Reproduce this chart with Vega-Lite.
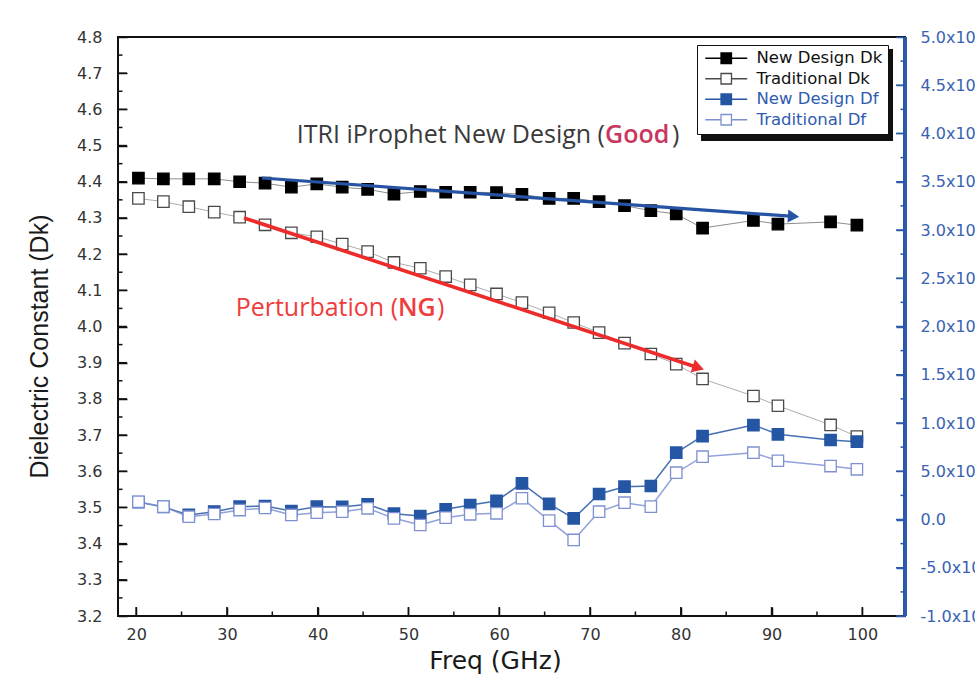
{
"$schema":"https://vega.github.io/schema/vega-lite/v6.json",
"width":787,"height":579,"autosize":"none",
"padding":{"left":118,"top":37,"right":70,"bottom":65},
"background":"white",
"config":{"view":{"stroke":"#111","strokeWidth":2,"fill":"transparent"},"axis":{"grid":false,"domain":false,"zindex":1,"tickWidth":1.5,"labelOverlap":false,"labelSeparation":-100,"labelBound":false,"labelFlush":false}},
"datasets":{
"dk":[
{"freq":20.25,"series":"New Design Dk","value":4.410},{"freq":23.0,"series":"New Design Dk","value":4.408},{"freq":25.8,"series":"New Design Dk","value":4.408},{"freq":28.6,"series":"New Design Dk","value":4.408},{"freq":31.4,"series":"New Design Dk","value":4.400},{"freq":34.2,"series":"New Design Dk","value":4.396},{"freq":37.1,"series":"New Design Dk","value":4.385},{"freq":39.9,"series":"New Design Dk","value":4.394},{"freq":42.7,"series":"New Design Dk","value":4.385},{"freq":45.5,"series":"New Design Dk","value":4.379},{"freq":48.4,"series":"New Design Dk","value":4.366},{"freq":51.3,"series":"New Design Dk","value":4.373},{"freq":54.1,"series":"New Design Dk","value":4.371},{"freq":56.8,"series":"New Design Dk","value":4.371},{"freq":59.7,"series":"New Design Dk","value":4.370},{"freq":62.5,"series":"New Design Dk","value":4.365},{"freq":65.5,"series":"New Design Dk","value":4.354},{"freq":68.2,"series":"New Design Dk","value":4.354},{"freq":71.0,"series":"New Design Dk","value":4.345},{"freq":73.8,"series":"New Design Dk","value":4.334},{"freq":76.7,"series":"New Design Dk","value":4.320},{"freq":79.5,"series":"New Design Dk","value":4.311},{"freq":82.4,"series":"New Design Dk","value":4.272},{"freq":88.0,"series":"New Design Dk","value":4.293},{"freq":90.7,"series":"New Design Dk","value":4.283},{"freq":96.5,"series":"New Design Dk","value":4.289},{"freq":99.4,"series":"New Design Dk","value":4.280},
{"freq":20.25,"series":"Traditional Dk","value":4.354},{"freq":23.0,"series":"Traditional Dk","value":4.345},{"freq":25.8,"series":"Traditional Dk","value":4.331},{"freq":28.6,"series":"Traditional Dk","value":4.316},{"freq":31.4,"series":"Traditional Dk","value":4.302},{"freq":34.2,"series":"Traditional Dk","value":4.281},{"freq":37.1,"series":"Traditional Dk","value":4.259},{"freq":39.9,"series":"Traditional Dk","value":4.248},{"freq":42.7,"series":"Traditional Dk","value":4.228},{"freq":45.5,"series":"Traditional Dk","value":4.207},{"freq":48.4,"series":"Traditional Dk","value":4.177},{"freq":51.3,"series":"Traditional Dk","value":4.161},{"freq":54.1,"series":"Traditional Dk","value":4.138},{"freq":56.8,"series":"Traditional Dk","value":4.115},{"freq":59.7,"series":"Traditional Dk","value":4.090},{"freq":62.5,"series":"Traditional Dk","value":4.066},{"freq":65.5,"series":"Traditional Dk","value":4.038},{"freq":68.2,"series":"Traditional Dk","value":4.011},{"freq":71.0,"series":"Traditional Dk","value":3.983},{"freq":73.8,"series":"Traditional Dk","value":3.954},{"freq":76.7,"series":"Traditional Dk","value":3.924},{"freq":79.5,"series":"Traditional Dk","value":3.896},{"freq":82.4,"series":"Traditional Dk","value":3.855},{"freq":88.0,"series":"Traditional Dk","value":3.808},{"freq":90.7,"series":"Traditional Dk","value":3.781},{"freq":96.5,"series":"Traditional Dk","value":3.728},{"freq":99.4,"series":"Traditional Dk","value":3.696}
],
"df":[
{"freq":20.25,"series":"New Design Df","value":0.00018},{"freq":23.0,"series":"New Design Df","value":0.00013},{"freq":25.8,"series":"New Design Df","value":0.000047},{"freq":28.6,"series":"New Design Df","value":0.000081},{"freq":31.4,"series":"New Design Df","value":0.000133},{"freq":34.2,"series":"New Design Df","value":0.00014},{"freq":37.1,"series":"New Design Df","value":0.000088},{"freq":39.9,"series":"New Design Df","value":0.000133},{"freq":42.7,"series":"New Design Df","value":0.00013},{"freq":45.5,"series":"New Design Df","value":0.000158},{"freq":48.4,"series":"New Design Df","value":0.00006},{"freq":51.3,"series":"New Design Df","value":0.000036},{"freq":54.1,"series":"New Design Df","value":0.000106},{"freq":56.8,"series":"New Design Df","value":0.00015},{"freq":59.7,"series":"New Design Df","value":0.000192},{"freq":62.5,"series":"New Design Df","value":0.000375},{"freq":65.5,"series":"New Design Df","value":0.000161},{"freq":68.2,"series":"New Design Df","value":0.000012},{"freq":71.0,"series":"New Design Df","value":0.000264},{"freq":73.8,"series":"New Design Df","value":0.00034},{"freq":76.7,"series":"New Design Df","value":0.000347},{"freq":79.5,"series":"New Design Df","value":0.000692},{"freq":82.4,"series":"New Design Df","value":0.000865},{"freq":88.0,"series":"New Design Df","value":0.000979},{"freq":90.7,"series":"New Design Df","value":0.000883},{"freq":96.5,"series":"New Design Df","value":0.000824},{"freq":99.4,"series":"New Design Df","value":0.000806},
{"freq":20.25,"series":"Traditional Df","value":0.000184},{"freq":23.0,"series":"Traditional Df","value":0.000133},{"freq":25.8,"series":"Traditional Df","value":0.000029},{"freq":28.6,"series":"Traditional Df","value":0.000057},{"freq":31.4,"series":"Traditional Df","value":0.000098},{"freq":34.2,"series":"Traditional Df","value":0.000119},{"freq":37.1,"series":"Traditional Df","value":0.000047},{"freq":39.9,"series":"Traditional Df","value":0.00007},{"freq":42.7,"series":"Traditional Df","value":0.000081},{"freq":45.5,"series":"Traditional Df","value":0.000116},{"freq":48.4,"series":"Traditional Df","value":0.000012},{"freq":51.3,"series":"Traditional Df","value":-0.000057},{"freq":54.1,"series":"Traditional Df","value":0.000019},{"freq":56.8,"series":"Traditional Df","value":0.000054},{"freq":59.7,"series":"Traditional Df","value":0.000064},{"freq":62.5,"series":"Traditional Df","value":0.00022},{"freq":65.5,"series":"Traditional Df","value":-0.000012},{"freq":68.2,"series":"Traditional Df","value":-0.000212},{"freq":71.0,"series":"Traditional Df","value":0.000081},{"freq":73.8,"series":"Traditional Df","value":0.000174},{"freq":76.7,"series":"Traditional Df","value":0.000133},{"freq":79.5,"series":"Traditional Df","value":0.000485},{"freq":82.4,"series":"Traditional Df","value":0.000651},{"freq":88.0,"series":"Traditional Df","value":0.000692},{"freq":90.7,"series":"Traditional Df","value":0.000609},{"freq":96.5,"series":"Traditional Df","value":0.000554},{"freq":99.4,"series":"Traditional Df","value":0.00052}
],
"notes":[
{"part":"itri","freq":71.65,"value":4.529,"text":"ITRI iProphet New Design ("},
{"part":"good","freq":71.65,"value":4.529,"text":"Good"},
{"part":"itri_end","freq":79.03,"value":4.529,"text":")"},
{"part":"pert","freq":48.85,"value":4.051,"text":"Perturbation ("},
{"part":"ng","freq":48.85,"value":4.051,"text":"NG"},
{"part":"pert_end","freq":53.14,"value":4.051,"text":")"}
],
"arrows":[
{"arrow":"good","freq":33.86,"value":4.4104,"freq2":92.42,"value2":4.3041},
{"arrow":"ng","freq":31.88,"value":4.300,"freq2":81.93,"value2":3.8862}
],
"shadow":[{"freq":82.23,"value":4.767,"freq2":103.38,"value2":4.5126}],
"xticks":[{"v":20,"kind":"major"},{"v":25,"kind":"minor"},{"v":30,"kind":"major"},{"v":35,"kind":"minor"},{"v":40,"kind":"major"},{"v":45,"kind":"minor"},{"v":50,"kind":"major"},{"v":55,"kind":"minor"},{"v":60,"kind":"major"},{"v":65,"kind":"minor"},{"v":70,"kind":"major"},{"v":75,"kind":"minor"},{"v":80,"kind":"major"},{"v":85,"kind":"minor"},{"v":90,"kind":"major"},{"v":95,"kind":"minor"},{"v":100,"kind":"major"}],
"dkticks":[{"v":3.2,"kind":"major"},{"v":3.25,"kind":"minor"},{"v":3.3,"kind":"major"},{"v":3.35,"kind":"minor"},{"v":3.4,"kind":"major"},{"v":3.45,"kind":"minor"},{"v":3.5,"kind":"major"},{"v":3.55,"kind":"minor"},{"v":3.6,"kind":"major"},{"v":3.65,"kind":"minor"},{"v":3.7,"kind":"major"},{"v":3.75,"kind":"minor"},{"v":3.8,"kind":"major"},{"v":3.85,"kind":"minor"},{"v":3.9,"kind":"major"},{"v":3.95,"kind":"minor"},{"v":4.0,"kind":"major"},{"v":4.05,"kind":"minor"},{"v":4.1,"kind":"major"},{"v":4.15,"kind":"minor"},{"v":4.2,"kind":"major"},{"v":4.25,"kind":"minor"},{"v":4.3,"kind":"major"},{"v":4.35,"kind":"minor"},{"v":4.4,"kind":"major"},{"v":4.45,"kind":"minor"},{"v":4.5,"kind":"major"},{"v":4.55,"kind":"minor"},{"v":4.6,"kind":"major"},{"v":4.65,"kind":"minor"},{"v":4.7,"kind":"major"},{"v":4.75,"kind":"minor"},{"v":4.8,"kind":"major"}],
"dfticks":[{"v":-0.001,"kind":"major"},{"v":-0.00075,"kind":"minor"},{"v":-0.0005,"kind":"major"},{"v":-0.00025,"kind":"minor"},{"v":0,"kind":"major"},{"v":0.00025,"kind":"minor"},{"v":0.0005,"kind":"major"},{"v":0.00075,"kind":"minor"},{"v":0.001,"kind":"major"},{"v":0.00125,"kind":"minor"},{"v":0.0015,"kind":"major"},{"v":0.00175,"kind":"minor"},{"v":0.002,"kind":"major"},{"v":0.00225,"kind":"minor"},{"v":0.0025,"kind":"major"},{"v":0.00275,"kind":"minor"},{"v":0.003,"kind":"major"},{"v":0.00325,"kind":"minor"},{"v":0.0035,"kind":"major"},{"v":0.00375,"kind":"minor"},{"v":0.004,"kind":"major"},{"v":0.00425,"kind":"minor"},{"v":0.0045,"kind":"major"},{"v":0.00475,"kind":"minor"},{"v":0.005,"kind":"major"}]
},
"layer":[
{"layer":[
{"data":{"name":"dk"},"mark":{"type":"line","strokeWidth":1,"strokeOpacity":0.45},
"encoding":{
"x":{"field":"freq","type":"quantitative","title":"Freq (GHz)","scale":{"domain":[18,104.7],"nice":false,"zero":false},
"axis":{"offset":-9,"tickCount":9,"labelFont":"DejaVu Sans","labelFontSize":16,"labelColor":"#333","labelPadding":10,"tickColor":"#111","tickSize":9,"titleFont":"DejaVu Sans","titleFontSize":25,"titleFontWeight":"normal","titleColor":"#1a1a1a","titlePadding":6,"titleX":377}},
"y":{"field":"value","type":"quantitative","title":"Dielectric Constant (Dk)","scale":{"domain":[3.2,4.8],"nice":false,"zero":false},
"axis":{"offset":-9,"tickCount":16,"format":".1f","labelFont":"DejaVu Sans","labelFontSize":16,"labelColor":"#333","labelPadding":16,"tickColor":"#111","tickSize":9,"titleFont":"Liberation Sans","titleFontSize":25,"titleFontWeight":"normal","titleColor":"#1a1a1a","titlePadding":24,"titleY":309}},
"stroke":{"field":"series","type":"nominal","scale":{"domain":["New Design Dk","Traditional Dk","New Design Df","Traditional Df"],"range":["#000000","#4a4a4a","#2456a4","#7e90d2"]},
"legend":{"orient":"none","legendX":579,"legendY":8,"title":null,"symbolType":"M-4,0H-1M1,0H4M-1,-1H1V1H-1Z","symbolSize":110,"symbolStrokeWidth":1.3,"labelFont":"DejaVu Sans","labelFontSize":16.5,"labelOffset":22,"symbolOffset":16,"padding":5,"rowPadding":3.5,"strokeColor":"#111","fillColor":"white","labelLimit":300,"encode":{"labels":{"update":{"fill":{"signal":"indexof(datum.label,'Df') >= 0 ? '#2f5bb0' : '#111'"}}},"symbols":{"update":{"strokeOpacity":{"value":1},"opacity":{"value":1}}}}}}
}},
{"data":{"name":"dk"},"mark":{"type":"point","shape":"square","size":130,"filled":true,"strokeWidth":1.3,"opacity":1},
"encoding":{
"x":{"field":"freq","type":"quantitative","title":"Freq (GHz)","scale":{"domain":[18,104.7],"nice":false,"zero":false}},
"y":{"field":"value","type":"quantitative","title":"Dielectric Constant (Dk)","scale":{"domain":[3.2,4.8],"nice":false,"zero":false}},
"fill":{"field":"series","type":"nominal","scale":{"domain":["New Design Dk","Traditional Dk","New Design Df","Traditional Df"],"range":["#000000","#ffffff","#2456a4","#ffffff"]},
"legend":{"orient":"none","legendX":579,"legendY":8,"title":null,"symbolType":"M-4,0H-1M1,0H4M-1,-1H1V1H-1Z","symbolSize":110,"symbolStrokeWidth":1.3,"labelFont":"DejaVu Sans","labelFontSize":16.5,"labelOffset":22,"symbolOffset":16,"padding":5,"rowPadding":3.5,"strokeColor":"#111","fillColor":"white","labelLimit":300,"encode":{"labels":{"update":{"fill":{"signal":"indexof(datum.label,'Df') >= 0 ? '#2f5bb0' : '#111'"}}},"symbols":{"update":{"strokeOpacity":{"value":1},"opacity":{"value":1}}}}}},
"stroke":{"field":"series","type":"nominal"}
}},
{"data":{"name":"xticks"},"transform":[{"filter":"datum.kind == 'major'"}],"mark":{"type":"tick","orient":"vertical","size":18,"thickness":1.5,"color":"#111","opacity":1,"clip":true},
"encoding":{"x":{"field":"v","type":"quantitative","title":"Freq (GHz)","scale":{"domain":[18,104.7],"nice":false,"zero":false}},"y":{"datum":3.2,"type":"quantitative","title":"Dielectric Constant (Dk)","scale":{"domain":[3.2,4.8],"nice":false,"zero":false}}}},
{"data":{"name":"xticks"},"transform":[{"filter":"datum.kind == 'minor'"}],"mark":{"type":"tick","orient":"vertical","size":9,"thickness":1.5,"color":"#111","opacity":1,"clip":true},
"encoding":{"x":{"field":"v","type":"quantitative","title":"Freq (GHz)","scale":{"domain":[18,104.7],"nice":false,"zero":false}},"y":{"datum":3.2,"type":"quantitative","title":"Dielectric Constant (Dk)","scale":{"domain":[3.2,4.8],"nice":false,"zero":false}}}},
{"data":{"name":"dkticks"},"transform":[{"filter":"datum.kind == 'major'"}],"mark":{"type":"tick","orient":"horizontal","size":18,"thickness":1.5,"color":"#111","opacity":1,"clip":true},
"encoding":{"y":{"field":"v","type":"quantitative","title":"Dielectric Constant (Dk)","scale":{"domain":[3.2,4.8],"nice":false,"zero":false}},"x":{"datum":18,"type":"quantitative","title":"Freq (GHz)","scale":{"domain":[18,104.7],"nice":false,"zero":false}}}},
{"data":{"name":"dkticks"},"transform":[{"filter":"datum.kind == 'minor'"}],"mark":{"type":"tick","orient":"horizontal","size":9,"thickness":1.5,"color":"#111","opacity":1,"clip":true},
"encoding":{"y":{"field":"v","type":"quantitative","title":"Dielectric Constant (Dk)","scale":{"domain":[3.2,4.8],"nice":false,"zero":false}},"x":{"datum":18,"type":"quantitative","title":"Freq (GHz)","scale":{"domain":[18,104.7],"nice":false,"zero":false}}}},
{"data":{"name":"arrows"},"transform":[{"filter":"datum.arrow == 'good'"}],"mark":{"type":"rule","color":"#2753a5","strokeWidth":3.2},
"encoding":{"x":{"field":"freq","type":"quantitative","title":"Freq (GHz)","scale":{"domain":[18,104.7],"nice":false,"zero":false}},"y":{"field":"value","type":"quantitative","title":"Dielectric Constant (Dk)","scale":{"domain":[3.2,4.8],"nice":false,"zero":false}},"x2":{"field":"freq2"},"y2":{"field":"value2"}}},
{"data":{"name":"arrows"},"transform":[{"filter":"datum.arrow == 'ng'"}],"mark":{"type":"rule","color":"#ee2b2b","strokeWidth":3.6},
"encoding":{"x":{"field":"freq","type":"quantitative","title":"Freq (GHz)","scale":{"domain":[18,104.7],"nice":false,"zero":false}},"y":{"field":"value","type":"quantitative","title":"Dielectric Constant (Dk)","scale":{"domain":[3.2,4.8],"nice":false,"zero":false}},"x2":{"field":"freq2"},"y2":{"field":"value2"}}},
{"data":{"name":"arrows"},"transform":[{"filter":"datum.arrow == 'good'"}],"mark":{"type":"point","shape":"triangle-right","size":170,"filled":true,"color":"#2753a5","angle":4,"opacity":1},
"encoding":{"x":{"field":"freq2","type":"quantitative","title":"Freq (GHz)","scale":{"domain":[18,104.7],"nice":false,"zero":false}},"y":{"field":"value2","type":"quantitative","title":"Dielectric Constant (Dk)","scale":{"domain":[3.2,4.8],"nice":false,"zero":false}}}},
{"data":{"name":"arrows"},"transform":[{"filter":"datum.arrow == 'ng'"}],"mark":{"type":"point","shape":"triangle-right","size":180,"filled":true,"color":"#ee2b2b","angle":18,"opacity":1},
"encoding":{"x":{"field":"freq2","type":"quantitative","title":"Freq (GHz)","scale":{"domain":[18,104.7],"nice":false,"zero":false}},"y":{"field":"value2","type":"quantitative","title":"Dielectric Constant (Dk)","scale":{"domain":[3.2,4.8],"nice":false,"zero":false}}}},
{"data":{"name":"notes"},"transform":[{"filter":"datum.part == 'itri'"}],"mark":{"type":"text","align":"right","baseline":"middle","font":"Open Sans","fontSize":25,"color":"#3a3a3a"},
"encoding":{"x":{"field":"freq","type":"quantitative","title":"Freq (GHz)","scale":{"domain":[18,104.7],"nice":false,"zero":false}},"y":{"field":"value","type":"quantitative","title":"Dielectric Constant (Dk)","scale":{"domain":[3.2,4.8],"nice":false,"zero":false}},"text":{"field":"text"}}},
{"data":{"name":"notes"},"transform":[{"filter":"datum.part == 'itri_end'"}],"mark":{"type":"text","align":"left","baseline":"middle","font":"Open Sans","fontSize":25,"color":"#3a3a3a"},
"encoding":{"x":{"field":"freq","type":"quantitative","title":"Freq (GHz)","scale":{"domain":[18,104.7],"nice":false,"zero":false}},"y":{"field":"value","type":"quantitative","title":"Dielectric Constant (Dk)","scale":{"domain":[3.2,4.8],"nice":false,"zero":false}},"text":{"field":"text"}}},
{"data":{"name":"notes"},"transform":[{"filter":"datum.part == 'good'"}],"mark":{"type":"text","align":"left","baseline":"middle","font":"Open Sans","fontSize":25,"fontWeight":600,"color":"#c8375f"},
"encoding":{"x":{"field":"freq","type":"quantitative","title":"Freq (GHz)","scale":{"domain":[18,104.7],"nice":false,"zero":false}},"y":{"field":"value","type":"quantitative","title":"Dielectric Constant (Dk)","scale":{"domain":[3.2,4.8],"nice":false,"zero":false}},"text":{"field":"text"}}},
{"data":{"name":"notes"},"transform":[{"filter":"datum.part == 'pert'"}],"mark":{"type":"text","align":"right","baseline":"middle","font":"Open Sans","fontSize":25,"color":"#f03c3c"},
"encoding":{"x":{"field":"freq","type":"quantitative","title":"Freq (GHz)","scale":{"domain":[18,104.7],"nice":false,"zero":false}},"y":{"field":"value","type":"quantitative","title":"Dielectric Constant (Dk)","scale":{"domain":[3.2,4.8],"nice":false,"zero":false}},"text":{"field":"text"}}},
{"data":{"name":"notes"},"transform":[{"filter":"datum.part == 'ng'"}],"mark":{"type":"text","align":"left","baseline":"middle","font":"Open Sans","fontSize":25,"fontWeight":600,"color":"#f03c3c"},
"encoding":{"x":{"field":"freq","type":"quantitative","title":"Freq (GHz)","scale":{"domain":[18,104.7],"nice":false,"zero":false}},"y":{"field":"value","type":"quantitative","title":"Dielectric Constant (Dk)","scale":{"domain":[3.2,4.8],"nice":false,"zero":false}},"text":{"field":"text"}}},
{"data":{"name":"notes"},"transform":[{"filter":"datum.part == 'pert_end'"}],"mark":{"type":"text","align":"left","baseline":"middle","font":"Open Sans","fontSize":25,"color":"#f03c3c"},
"encoding":{"x":{"field":"freq","type":"quantitative","title":"Freq (GHz)","scale":{"domain":[18,104.7],"nice":false,"zero":false}},"y":{"field":"value","type":"quantitative","title":"Dielectric Constant (Dk)","scale":{"domain":[3.2,4.8],"nice":false,"zero":false}},"text":{"field":"text"}}},
{"data":{"name":"shadow"},"mark":{"type":"rect","color":"#111"},
"encoding":{"x":{"field":"freq","type":"quantitative","title":"Freq (GHz)","scale":{"domain":[18,104.7],"nice":false,"zero":false}},"x2":{"field":"freq2"},"y":{"field":"value","type":"quantitative","title":"Dielectric Constant (Dk)","scale":{"domain":[3.2,4.8],"nice":false,"zero":false}},"y2":{"field":"value2"}}}
]},
{"layer":[
{"data":{"name":"df"},"mark":{"type":"line","strokeWidth":1.5,"strokeOpacity":0.85},
"encoding":{
"x":{"field":"freq","type":"quantitative","title":"Freq (GHz)","scale":{"domain":[18,104.7],"nice":false,"zero":false}},
"y":{"field":"value","type":"quantitative","title":null,"scale":{"domain":[-0.001,0.005],"nice":false,"zero":false},
"axis":{"orient":"right","offset":-9,"title":null,
"labelExpr":"abs(datum.value) < 1e-9 ? '0.0' : ((datum.value < 0 ? '-' : '') + (abs(datum.value) >= 0.00099 ? format(abs(datum.value)*1000, '.1f') + 'x10⁻³' : format(abs(datum.value)*10000, '.1f') + 'x10⁻⁴'))",
"labelFont":"DejaVu Sans","labelFontSize":16,"labelColor":"#3a62b2","labelPadding":15,"labelAlign":"left","tickColor":"#2c5aa8","tickSize":9}},
"stroke":{"field":"series","type":"nominal"}
}},
{"data":{"name":"df"},"mark":{"type":"point","shape":"square","size":130,"filled":true,"strokeWidth":1.3,"opacity":1},
"encoding":{
"x":{"field":"freq","type":"quantitative","title":"Freq (GHz)","scale":{"domain":[18,104.7],"nice":false,"zero":false}},
"y":{"field":"value","type":"quantitative","title":null,"scale":{"domain":[-0.001,0.005],"nice":false,"zero":false}},
"fill":{"field":"series","type":"nominal"},
"stroke":{"field":"series","type":"nominal"}
}},
{"data":{"name":"dfticks"},"transform":[{"filter":"datum.kind == 'major'"}],"mark":{"type":"tick","orient":"horizontal","size":18,"thickness":1.5,"color":"#2c5aa8","opacity":1,"clip":true},
"encoding":{"y":{"field":"v","type":"quantitative","title":null,"scale":{"domain":[-0.001,0.005],"nice":false,"zero":false}},"x":{"datum":104.7,"type":"quantitative","title":"Freq (GHz)","scale":{"domain":[18,104.7],"nice":false,"zero":false}}}},
{"data":{"name":"dfticks"},"transform":[{"filter":"datum.kind == 'minor'"}],"mark":{"type":"tick","orient":"horizontal","size":9,"thickness":1.5,"color":"#2c5aa8","opacity":1,"clip":true},
"encoding":{"y":{"field":"v","type":"quantitative","title":null,"scale":{"domain":[-0.001,0.005],"nice":false,"zero":false}},"x":{"datum":104.7,"type":"quantitative","title":"Freq (GHz)","scale":{"domain":[18,104.7],"nice":false,"zero":false}}}},
{"data":{"name":"df"},"mark":{"type":"rule","color":"#2c5aa8","strokeWidth":2.2},
"encoding":{"x":{"datum":104.7,"type":"quantitative","title":"Freq (GHz)","scale":{"domain":[18,104.7],"nice":false,"zero":false}}}}
]}
],
"resolve":{"scale":{"y":"independent"}}
}
